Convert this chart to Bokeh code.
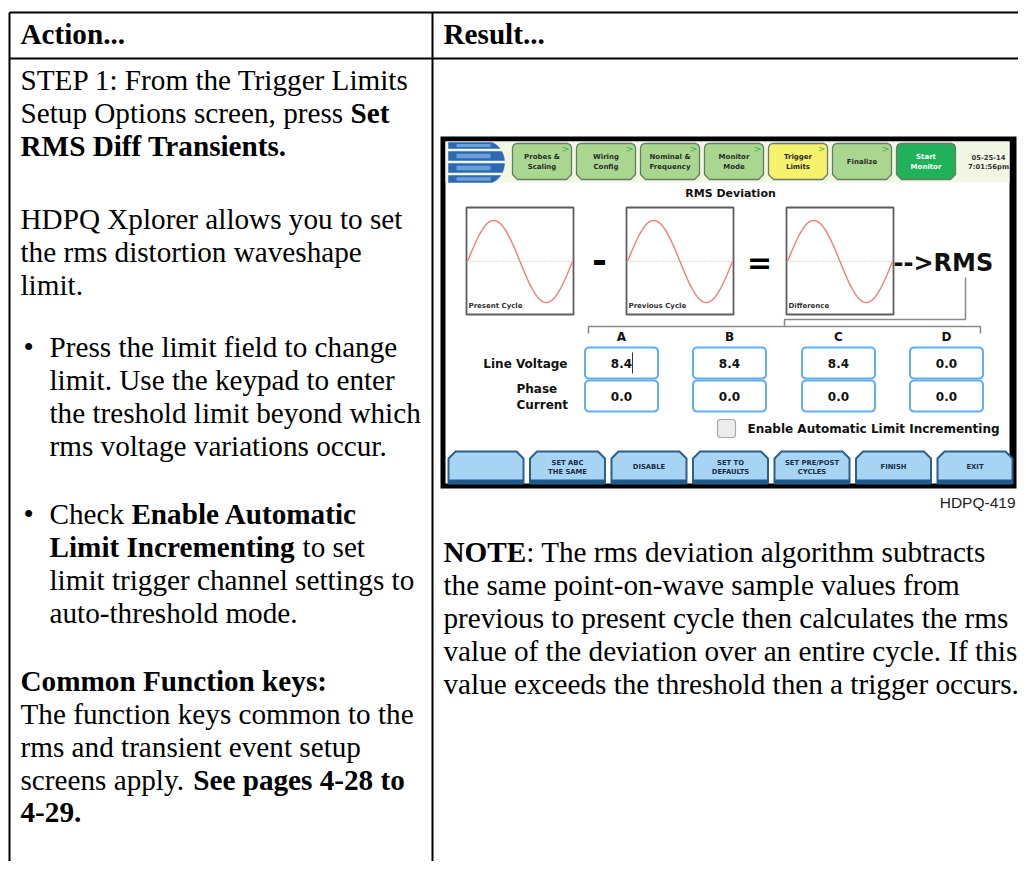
import numpy as np
from bokeh.plotting import figure
from bokeh.models import Range1d, ColumnDataSource
from bokeh.core.properties import value
from bokeh.embed import file_html
from bokeh.resources import INLINE

# ---------------- content ----------------
HEADERS = ["Action...", "Result..."]

LEFT_LINES = [
    [("STEP 1: From the Trigger Limits", 0)],
    [("Setup Options screen, press ", 0), ("Set", 1)],
    [("RMS Diff Transients.", 1)],
    [("HDPQ Xplorer allows you to set", 0)],
    [("the rms distortion waveshape", 0)],
    [("limit.", 0)],
    [("Press the limit field to change", 0)],
    [("limit. Use the keypad to enter", 0)],
    [("the treshold limit beyond which", 0)],
    [("rms voltage variations occur.", 0)],
    [("Check ", 0), ("Enable Automatic", 1)],
    [("Limit Incrementing", 1), (" to set", 0)],
    [("limit trigger channel settings to", 0)],
    [("auto-threshold mode.", 0)],
    [("Common Function keys:", 1)],
    [("The function keys common to the", 0)],
    [("rms and transient event setup", 0)],
    [("screens apply. ", 0), ("See pages 4-28 to", 1)],
    [("4-29.", 1)],
]
LEFT_Y = [79, 112, 145, 218, 251, 284, 346, 379, 412, 445, 513, 546, 579, 612, 680, 713, 746, 779, 812]
LEFT_INDENT = [0, 0, 0, 0, 0, 0, 1, 1, 1, 1, 1, 1, 1, 1, 0, 0, 0, 0, 0]
BULLET_LINES = [6, 10]

NOTE_LINES = [
    [("NOTE", 1), (": The rms deviation algorithm subtracts", 0)],
    [("the same point-on-wave sample values from", 0)],
    [("previous to present cycle then calculates the rms", 0)],
    [("value of the deviation over an entire cycle. If this", 0)],
    [("value exceeds the threshold then a trigger occurs.", 0)],
]
NOTE_Y = [551, 584, 617, 650, 683]

TAB_LABELS = [["Probes &", "Scaling"], ["Wiring", "Config"], ["Nominal &", "Frequency"],
              ["Monitor", "Mode"], ["Trigger", "Limits"], ["Finalize"], ["Start", "Monitor"]]
TAB_KIND = ["done", "done", "done", "done", "active", "done", "start"]
DATE_TIME = ["05-25-14", "7:01:56pm"]
SCREEN_TITLE = "RMS Deviation"
WAVE_LABELS = ["Present Cycle", "Previous Cycle", "Difference"]
CHANNELS = ["A", "B", "C", "D"]
ROW_LABELS = ["Line Voltage", "Phase", "Current"]
LINE_VOLTAGE = ["8.4", "8.4", "8.4", "0.0"]
PHASE_CURRENT = ["0.0", "0.0", "0.0", "0.0"]
CHECK_LABEL = "Enable Automatic Limit Incrementing"
BUTTONS = [[], ["SET ABC", "THE SAME"], ["DISABLE"], ["SET TO", "DEFAULTS"],
           ["SET PRE/POST", "CYCLES"], ["FINISH"], ["EXIT"]]
FIG_ID = "HDPQ-419"

# ---------------- Times metrics (for mixed bold/regular runs) ----------------
LOW_R = [444,500,444,500,444,333,500,500,278,278,500,278,778,500,500,500,500,333,389,278,500,500,722,500,500,444]
UP_R = [722,667,667,722,611,556,722,722,333,389,722,611,889,722,722,556,722,667,556,611,722,722,944,722,722,611]
LOW_B = [500,556,444,556,444,333,500,556,278,333,556,278,833,556,500,556,556,444,389,333,556,500,722,500,500,444]
UP_B = [722,667,722,722,667,611,778,778,389,500,778,667,944,722,778,611,778,722,556,667,722,722,1000,722,722,667]


def char_w(c, bold):
    if 'a' <= c <= 'z':
        return (LOW_B if bold else LOW_R)[ord(c) - 97]
    if 'A' <= c <= 'Z':
        return (UP_B if bold else UP_R)[ord(c) - 65]
    if c.isdigit():
        return 500
    return {' ': 250, '.': 250, ',': 250, ':': 333 if bold else 278, '-': 333}.get(c, 500)


def str_w(s, bold, size):
    return sum(char_w(c, bold) for c in s) * size / 1000.0


# ---------------- figure ----------------
W, H = 1018, 861
p = figure(width=W, height=H, x_range=Range1d(0, W), y_range=Range1d(H, 0),
           output_backend="svg", toolbar_location=None, min_border=0,
           x_axis_location=None, y_axis_location=None)
p.grid.visible = False
p.outline_line_color = None
p.background_fill_color = "white"
p.border_fill_color = "white"


def put(xs, ys, texts, size, font="Liberation Serif", style="normal", color="#000000",
        align="left", baseline="middle"):
    src = ColumnDataSource(dict(x=list(xs), y=list(ys), text=list(texts)))
    p.text(x="x", y="y", text="text", source=src, text_font=value(font),
           text_font_size=value(size), text_font_style=style, text_color=color,
           text_align=align, text_baseline=baseline)


def put_runs(lines, ys, x0s, size):
    reg = ([], [], [])
    bold = ([], [], [])
    for segs, y, x0 in zip(lines, ys, x0s):
        x = x0
        for s, b in segs:
            lead = len(s) - len(s.lstrip(" "))
            x += str_w(s[:lead], b, size)
            body = s.strip(" ")
            tgt = bold if b else reg
            tgt[0].append(x); tgt[1].append(y); tgt[2].append(body)
            x += str_w(s[lead:], b, size)
    put(*reg, f"{size}px")
    put(*bold, f"{size}px", style="bold")


def poly(pts):
    return [q[0] for q in pts], [q[1] for q in pts]


def rounded(x0, y0, x1, y1, r, n=6):
    pts = []
    for cx, cy, a0 in [(x1 - r, y0 + r, -90), (x1 - r, y1 - r, 0), (x0 + r, y1 - r, 90), (x0 + r, y0 + r, 180)]:
        for a in np.linspace(a0, a0 + 90, n):
            t = np.radians(a)
            pts.append((cx + r * np.cos(t), cy + r * np.sin(t)))
    return poly(pts)


def patches(shapes, fill, line, lw):
    xs = [s[0] for s in shapes]
    ys = [s[1] for s in shapes]
    src = ColumnDataSource(dict(xs=xs, ys=ys, fill=fill, line=line))
    p.patches(xs="xs", ys="ys", source=src, fill_color="fill", line_color="line", line_width=lw)


# ---------------- table ----------------
TBL_L, TBL_T, TBL_H, TBL_MID, TBL_R, TBL_B = 9, 12, 58, 432, 1030, 875
p.segment(x0=[TBL_L, TBL_L, TBL_L, TBL_MID], y0=[TBL_T, TBL_H, TBL_T, TBL_T],
          x1=[TBL_R, TBL_R, TBL_L, TBL_MID], y1=[TBL_T, TBL_H, TBL_B, TBL_B],
          line_color="black", line_width=2)

FS = 29.2
put([20, 443], [33, 33], HEADERS, f"{FS}px", style="bold")

lx = [20 + 29 * ind for ind in LEFT_INDENT]
put_runs(LEFT_LINES, LEFT_Y, lx, FS)
put([23] * len(BULLET_LINES), [LEFT_Y[i] for i in BULLET_LINES], ["\u2022"] * len(BULLET_LINES), f"{FS}px")
put_runs(NOTE_LINES, NOTE_Y, [443] * len(NOTE_LINES), FS)

# ---------------- screenshot ----------------
SANS = "DejaVu Sans"
FX0, FY0, FX1, FY1 = 440, 136, 1016, 488
p.quad(left=FX0, right=FX1, top=FY0, bottom=FY1, fill_color="black", line_color=None)
p.quad(left=445, right=1009, top=141, bottom=483, fill_color="white", line_color=None)
p.quad(left=445, right=1009, top=141, bottom=182, fill_color="#f1f7e4", line_color=None)

# logo
stripes = [(142, 148), (151, 160), (163, 172), (175, 182)]
logo, glow = [], []
for a, b in stripes:
    ys_ = np.linspace(a, b, 8)
    xr = 486 + 18 * np.sqrt(np.clip(1 - ((ys_ - 162) / 21.0) ** 2, 0, 1))
    logo.append(poly([(448, a)] + list(zip(xr, ys_)) + [(448, b)]))
    m = (a + b) / 2
    h = (b - a) * 0.25
    glow.append(poly([(456, m - h), (490, m - h), (490, m + h), (456, m + h)]))
patches(logo, ["#2d68b2"] * 4, ["#2d68b2"] * 4, 0.5)
patches(glow, ["#6d9fd8"] * 4, [None] * 4, 0)

# tabs
TAB_X0, TAB_STEP, TAB_W, TAB_T, TAB_B = 512, 64, 59, 143, 179
fill_map = {"done": "#a9d78f", "active": "#f6f26b", "start": "#20b25b"}
tab_shapes, tab_fill = [], []
for i, kind in enumerate(TAB_KIND):
    x0 = TAB_X0 + i * TAB_STEP
    x1 = x0 + TAB_W
    r, c = 4, 5
    pts = [(x0, TAB_T + r), (x0 + 1.2, TAB_T + 1.2), (x0 + r, TAB_T), (x1 - r, TAB_T), (x1 - 1.2, TAB_T + 1.2),
           (x1, TAB_T + r), (x1, TAB_B - c), (x1 - c, TAB_B), (x0 + c, TAB_B), (x0, TAB_B - c)]
    tab_shapes.append(poly(pts))
    tab_fill.append(fill_map[kind])
patches(tab_shapes, tab_fill, ["#6a7a66"] * len(tab_shapes), 1.3)

tx, ty, tt, sx, sy, st = [], [], [], [], [], []
for i, lab in enumerate(TAB_LABELS):
    cx = TAB_X0 + i * TAB_STEP + TAB_W / 2
    ys_ = [161] if len(lab) == 1 else [156.5, 166.5]
    for yy, s in zip(ys_, lab):
        if TAB_KIND[i] == "start":
            sx.append(cx); sy.append(yy); st.append(s)
        else:
            tx.append(cx); ty.append(yy); tt.append(s)
put(tx, ty, tt, "7px", font=SANS, style="bold", color="#2b2b2b", align="center")
put(sx, sy, st, "7px", font=SANS, style="bold", color="#ffffff", align="center")
gx = [TAB_X0 + i * TAB_STEP + TAB_W - 6 for i, k in enumerate(TAB_KIND) if k != "start"]
put(gx, [TAB_T + 5] * len(gx), [">"] * len(gx), "9px", font=SANS, color="#3cb64a", align="center")
put([988, 988], [156.5, 166.5], DATE_TIME, "6.8px", font=SANS, style="bold", color="#333333", align="center")

put([730], [193], [SCREEN_TITLE], "11px", font=SANS, style="bold", color="#111111", align="center")

# waveform boxes
BOX_X = [466, 626, 786]
BOX_W, BOX_T, BOX_B = 107, 207, 314
MID, AMP = 261, 41
p.quad(left=BOX_X, right=[b + BOX_W for b in BOX_X], top=BOX_T, bottom=BOX_B,
       fill_color="white", line_color="#5f5f5f", line_width=1.8)
p.segment(x0=BOX_X, x1=[b + BOX_W for b in BOX_X], y0=MID, y1=MID,
          line_color="#b8b8b8", line_width=1, line_dash="1 2")
t = np.linspace(0, 1, 120)
p.multi_line(xs=[list(b + 1 + t * (BOX_W - 2)) for b in BOX_X],
             ys=[list(MID - AMP * np.sin(2 * np.pi * t)) for _ in BOX_X],
             line_color="#f27c7c", line_width=1.4)
put([b + 2 for b in BOX_X], [305] * 3, WAVE_LABELS, "7px", font=SANS, style="bold", color="#333333")
put([599], [259], ["-"], "36px", font=SANS, style="bold", color="#000000", align="center")
put([759], [262], ["="], "30px", font=SANS, style="bold", color="#000000", align="center")
put([893], [262], ["-->RMS"], "24px", font=SANS, style="bold", color="#111111")

# brackets
p.multi_line(xs=[[965, 965, 784, 784], [588, 588, 980, 980]],
             ys=[[277, 319, 319, 326], [333, 326, 326, 333]],
             line_color="#8a8a8a", line_width=1.5)

# channel grid
COL_X = [621, 729, 838, 946]
BW = 73
ROWS = [(347, 378), (380, 411)]
put(COL_X, [336] * 4, CHANNELS, "12px", font=SANS, style="bold", color="#111111", align="center")
cells = []
for (a, b) in ROWS:
    for cx in COL_X:
        cells.append(rounded(cx - BW / 2, a, cx + BW / 2, b, 4))
patches(cells, ["white"] * len(cells), ["#63aef3"] * len(cells), 2)
put(COL_X, [363] * 4, LINE_VOLTAGE, "12px", font=SANS, style="bold", color="#111111", align="center")
put(COL_X, [396] * 4, PHASE_CURRENT, "12px", font=SANS, style="bold", color="#111111", align="center")
p.segment(x0=[632], x1=[632], y0=[352], y1=[373], line_color="#333333", line_width=1)
put([567], [363], ROW_LABELS[:1], "12px", font=SANS, style="bold", color="#111111", align="right")
put([516, 516], [388, 404], ROW_LABELS[1:], "12px", font=SANS, style="bold", color="#111111")

# checkbox
cb = rounded(717, 419, 735, 437, 3)
patches([cb], ["#ececec"], ["#a8a8a8"], 1.2)
put([747], [428], [CHECK_LABEL], "12px", font=SANS, style="bold", color="#111111")

# function buttons
BTN_X0, BTN_STEP, BTN_W, BTN_T, BTN_B = 448, 81.5, 75, 451, 483
btn_shapes = []
for i in range(len(BUTTONS)):
    x0 = BTN_X0 + i * BTN_STEP
    x1 = x0 + BTN_W
    c = 7
    btn_shapes.append(poly([(x0, BTN_B), (x0, BTN_T + c), (x0 + c, BTN_T), (x1 - c, BTN_T),
                            (x1, BTN_T + c), (x1, BTN_B)]))
patches(btn_shapes, ["#a7d4f2"] * len(btn_shapes), ["#2e5f88"] * len(btn_shapes), 2)
p.quad(left=[BTN_X0 + i * BTN_STEP for i in range(len(BUTTONS))],
       right=[BTN_X0 + i * BTN_STEP + BTN_W for i in range(len(BUTTONS))],
       top=479, bottom=483, fill_color="#1d5b8e", line_color=None)
bx, by, bt = [], [], []
for i, lab in enumerate(BUTTONS):
    cx = BTN_X0 + i * BTN_STEP + BTN_W / 2
    ys_ = [466] if len(lab) == 1 else [462, 471]
    for yy, s in zip(ys_, lab):
        bx.append(cx); by.append(yy); bt.append(s)
put(bx, by, bt, "6.8px", font=SANS, style="bold", color="#1a2d48", align="center")

put([1015], [502], [FIG_ID], "15.5px", font="Liberation Sans", color="#222222", align="right")

open("out.html", "w").write(file_html(p, INLINE))
